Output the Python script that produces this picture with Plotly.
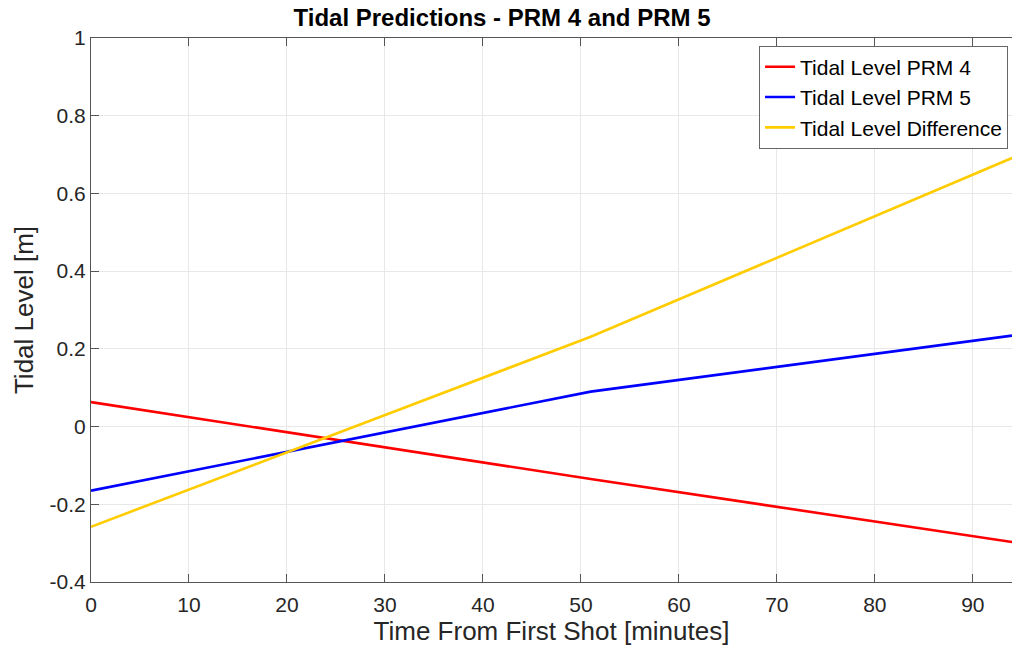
import plotly.graph_objects as go

# Data
time_min = [0, 51, 94]
prm4 = [0.063, -0.135, -0.297]
prm5 = [-0.165, 0.090, 0.234]
diff = [-0.258, 0.231, 0.691]

series_names = ["Tidal Level PRM 4", "Tidal Level PRM 5", "Tidal Level Difference"]
series_colors = ["#ff0000", "#0000ff", "#ffcc00"]

x_ticks = [0, 10, 20, 30, 40, 50, 60, 70, 80, 90]
y_ticks = [-0.4, -0.2, 0, 0.2, 0.4, 0.6, 0.8, 1]
y_ticktext = ["-0.4", "-0.2", "0", "0.2", "0.4", "0.6", "0.8", "1"]

FONT = "Liberation Sans, Arial, Helvetica, sans-serif"
TXT = "#262626"

fig = go.Figure()
for i, (name, col, ys) in enumerate(zip(series_names, series_colors, [prm4, prm5, diff])):
    fig.add_trace(go.Scatter(x=time_min, y=ys, mode="lines", name=name,
                             line=dict(color=col, width=2.6),
                             legendgroup=f"g{i}"))

axis_common = dict(showgrid=True, gridcolor="#e8e8e8", gridwidth=1,
                   showline=True, linecolor="#555555", linewidth=1,
                   ticks="inside", ticklen=8, tickcolor="#555555",
                   tickfont=dict(family=FONT, size=21, color=TXT),
                   zeroline=False)

fig.update_layout(
    width=1012, height=649,
    margin=dict(l=91, r=0, t=38, b=67),
    paper_bgcolor="white", plot_bgcolor="white",
    title=dict(text="<b>Tidal Predictions - PRM 4 and PRM 5</b>",
               font=dict(family=FONT, size=24, color="black"),
               x=502 / 1012, xref="container", y=1 - 18 / 649, yref="container",
               xanchor="center", yanchor="middle"),
    xaxis=dict(range=[0, 94], tickvals=x_ticks, mirror="ticks",
               ticklabelstandoff=4,
               title=dict(text="Time From First Shot [minutes]",
                          font=dict(family=FONT, size=26, color=TXT), standoff=6),
               **axis_common),
    yaxis=dict(range=[-0.4, 1], tickvals=y_ticks, ticktext=y_ticktext,
               title=dict(text="Tidal Level [m]",
                          font=dict(family=FONT, size=26, color=TXT), standoff=8),
               **axis_common),
    legend=dict(x=0.9957, y=0.986, xanchor="right", yanchor="top",
                bgcolor="white", bordercolor="#666666", borderwidth=1,
                font=dict(family=FONT, size=21, color="black"),
                traceorder="grouped", tracegroupgap=0),
    showlegend=True,
)

fig.write_html("out.html")
